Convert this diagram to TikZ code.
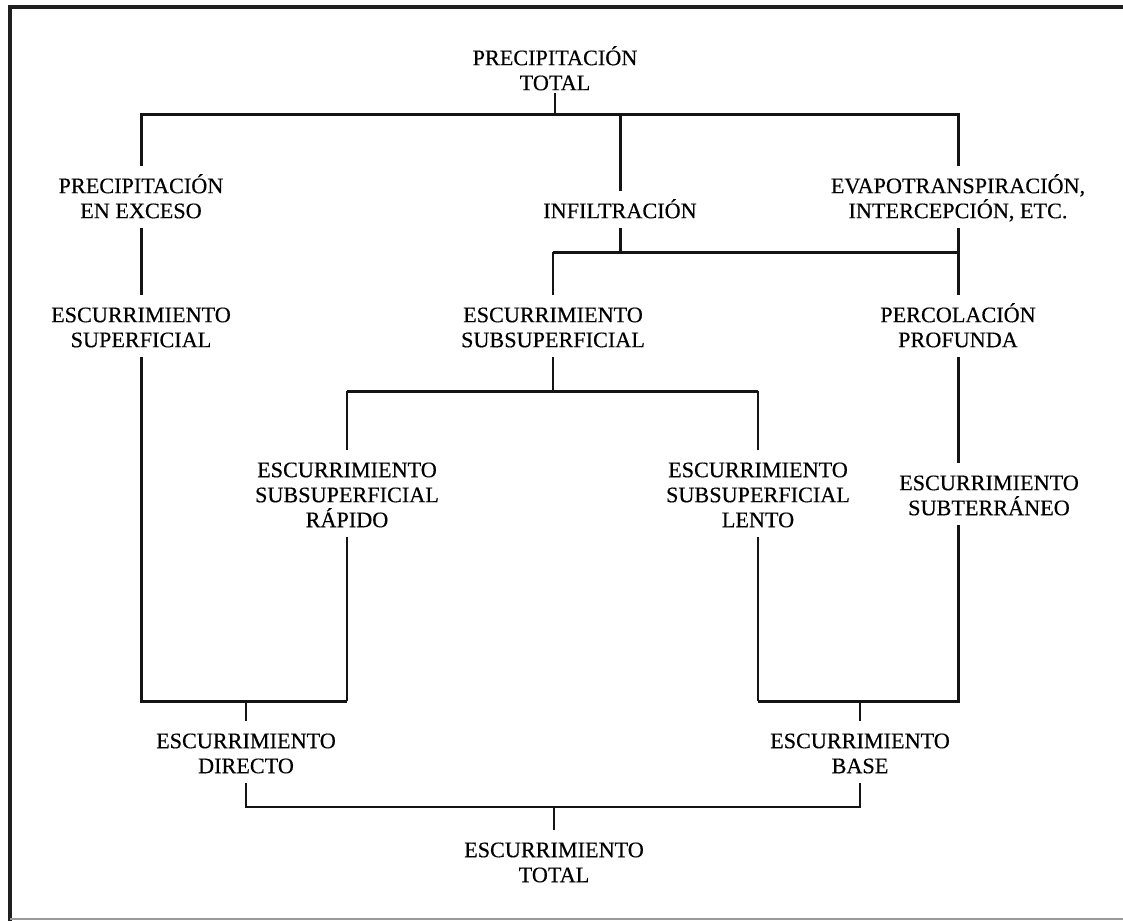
\documentclass[tikz,border=0pt]{standalone}
\usepackage{fontspec}
\setmainfont{Liberation Serif}[FakeBold=0.4]
\newcommand\tstr{\rule{0pt}{22pt}}
\newcommand\bstr{\rule[-5pt]{0pt}{5pt}}
\tikzset{
  lbl/.style={font=\fontsize{22.2}{25}\selectfont, align=center, inner xsep=0pt, inner ysep=5pt, anchor=north, text=black},
  thk/.style={line width=3pt, black!92},
  med/.style={line width=2.2pt, black!92},
  thn/.style={line width=1.5pt, black!92},
  frm/.style={line width=4pt, black!88},
}
\begin{document}
\begin{tikzpicture}[x=1pt,y=-1pt]
\useasboundingbox (0,0) rectangle (1123,920);
% frame
\draw[frm, line join=miter] (9.5,921) -- (9.5,7.5) -- (1124,7.5);
\draw[line width=1.5pt, black!40] (9.5,919) -- (1123,919);

% levels
\coordinate (top) at (0,115);
\coordinate (mid) at (0,252);
\coordinate (lev3) at (0,391);
\coordinate (bot) at (0,701);
\coordinate (bot2) at (0,807);

% labels
\node[lbl] (pt)   at (555,38)  {\tstr PRECIPITACIÓN\\TOTAL\bstr};
\node[lbl] (pe)   at (141,166) {\tstr PRECIPITACIÓN\\EN EXCESO\bstr};
\node[lbl] (inf)  at (620,191) {\tstr INFILTRACIÓN\bstr};
\node[lbl] (evap) at (958,166) {\tstr EVAPOTRANSPIRACIÓN,\\INTERCEPCIÓN, ETC.\bstr};
\node[lbl] (es)   at (141,295) {\tstr ESCURRIMIENTO\\SUPERFICIAL\bstr};
\node[lbl] (ess)  at (553,295) {\tstr ESCURRIMIENTO\\SUBSUPERFICIAL\bstr};
\node[lbl] (pp)   at (958,295) {\tstr PERCOLACIÓN\\PROFUNDA\bstr};
\node[lbl] (rap)  at (347,450) {\tstr ESCURRIMIENTO\\SUBSUPERFICIAL\\RÁPIDO\bstr};
\node[lbl] (len)  at (758,450) {\tstr ESCURRIMIENTO\\SUBSUPERFICIAL\\LENTO\bstr};
\node[lbl] (sub)  at (989,463) {\tstr ESCURRIMIENTO\\SUBTERRÁNEO\bstr};
\node[lbl] (dir)  at (246,721) {\tstr ESCURRIMIENTO\\DIRECTO\bstr};
\node[lbl] (bas)  at (860,721) {\tstr ESCURRIMIENTO\\BASE\bstr};
\node[lbl] (tot)  at (554,830) {\tstr ESCURRIMIENTO\\TOTAL\bstr};

% level 1
\draw[thn] ([yshift=7pt]pt.south) -- (pt.south |- top);
\draw[thk, line join=miter] (pe.north) -- (pe.north |- top) -- (evap.north |- top) -- (evap.north);
\draw[thk] (inf.north) -- (inf.north |- top);

% level 2
\draw[thk] (pe.south) -- (es.north);
\draw[thk] (inf.south) -- (inf.south |- mid);
\draw[thk] (ess.north |- mid) -- (evap.south |- mid);
\draw[med] (ess.north) -- (ess.north |- mid);
\draw[thk] (evap.south) -- (pp.north);

% level 3
\draw[thn] (ess.south) -- (ess.south |- lev3);
\draw[thk] (rap.north |- lev3) -- (len.north |- lev3);
\draw[med] (rap.north) -- (rap.north |- lev3);
\draw[thn] (len.north) -- (len.north |- lev3);
\draw[thk] (pp.south) -- (pp.south |- sub.north);

% bottom boxes
\draw[thk, line join=miter] (es.south) -- (es.south |- bot) -- (rap.south |- bot);
\draw[thn] (rap.south) -- (rap.south |- bot);
\draw[thn] (len.south) -- (len.south |- bot);
\draw[thk, line join=miter] (len.south |- bot) -- (pp.south |- bot) -- (pp.south |- sub.south);
\draw[thn] (dir.north) -- (dir.north |- bot);
\draw[thn] (bas.north) -- (bas.north |- bot);

% total
\draw[med, line join=miter] (dir.south) -- (dir.south |- bot2) -- (bas.south |- bot2) -- (bas.south);
\draw[thn] (tot.north) -- (tot.north |- bot2);
\end{tikzpicture}
\end{document}
